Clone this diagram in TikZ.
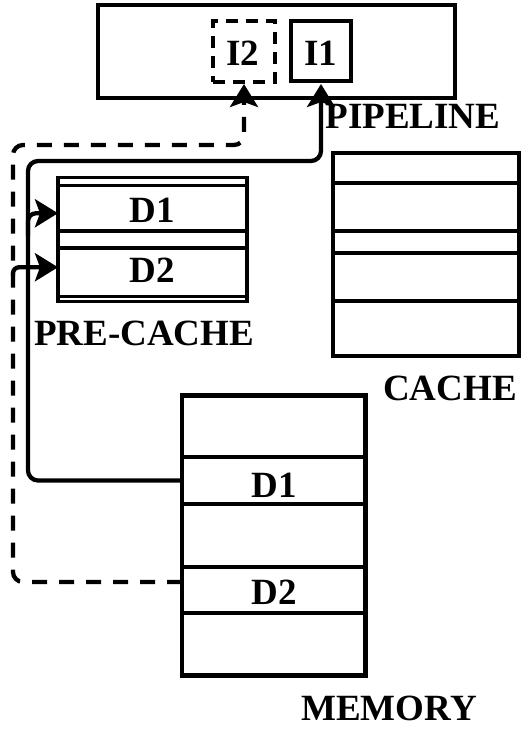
\documentclass[tikz,border=0pt]{standalone}
\usepackage{fontspec}
\setmainfont{Liberation Serif}
\usetikzlibrary{arrows.meta}
\begin{document}
\begin{tikzpicture}[x=1pt,y=-1pt,
  box/.style={draw, line width=4.6pt, inner sep=0pt, outer sep=0pt},
  pbox/.style={draw, line width=3.6pt, inner sep=0pt, outer sep=0pt, minimum width=189pt},
  cbox/.style={box, minimum width=186pt},
  mbox/.style={box, minimum width=183.5pt},
  lbl/.style={font=\fontsize{37}{40}\selectfont\bfseries, inner sep=0pt, anchor=base},
  conn/.style={line width=4.3pt, rounded corners=10pt},
  dsh/.style={dash pattern=on 15pt off 12pt},
  arrowtip/.style={-{Stealth[length=23pt,width=28pt,inset=5pt]}}
]
\useasboundingbox (0,0) rectangle (531,729);

% pipeline
\node[box, minimum width=357pt, minimum height=93pt] (pipe) at (276.5,51.5) {};
\node[box, dash pattern=on 12pt off 8pt, minimum width=62pt, minimum height=61pt] (i2) at (244,51.5) {};
\node[box, minimum width=60pt, minimum height=60pt] (i1) at (321,51) {};
\node[lbl] (i2t) at (243,65) {I2};
\node[lbl] (i1t) at (321,65) {I1};
\node[lbl] (pipet) at (413,128) {PIPELINE};

% pre-cache
\node[pbox, minimum height=8pt] (pc1) at (152.5,181.5) {};
\node[pbox, minimum height=45.5pt] (pc2) at (152.5,208.25) {};
\node[pbox, minimum height=17pt] (pc3) at (152.5,239.5) {};
\node[pbox, minimum height=48.5pt] (pc4) at (152.5,272.25) {};
\node[pbox, minimum height=5pt] (pc5) at (152.5,299) {};
\node[lbl] (pcd1) at (152,222) {D1};
\node[lbl] (pcd2) at (152,282) {D2};
\node[lbl] (pct) at (144,345) {PRE-CACHE};

% cache
\node[cbox, minimum height=30pt] (c1) at (426,168) {};
\node[cbox, minimum height=48pt] (c2) at (426,207) {};
\node[cbox, minimum height=22pt] (c3) at (426,242) {};
\node[cbox, minimum height=48pt] (c4) at (426,277) {};
\node[cbox, minimum height=55pt] (c5) at (426,328.5) {};
\node[lbl] (ct) at (450,400) {CACHE};

% memory
\node[mbox, minimum height=61.5pt] (m1) at (273.75,426.25) {};
\node[mbox, minimum height=47pt] (m2) at (273.75,480.5) {};
\node[mbox, minimum height=63pt] (m3) at (273.75,535.5) {};
\node[mbox, minimum height=46pt] (m4) at (273.75,590) {};
\node[mbox, minimum height=62.5pt] (m5) at (273.75,644.25) {};
\node[lbl] (md1) at (274,497) {D1};
\node[lbl] (md2) at (274,604) {D2};
\node[lbl] (mt) at (389,720) {MEMORY};

% connectors
\coordinate (sL) at (28,161);
\coordinate (dL) at (13,145);
\coordinate (b1) at (28,236);
\coordinate (b2) at (13,276);

\draw[conn, arrowtip, shorten >=3pt] (m2.west) -| (sL) -| (i1.south);
\draw[conn, arrowtip, rounded corners=8pt] (b1) |- ([yshift=-5pt]pc2.west);
\draw[conn, dsh, arrowtip, shorten >=2pt] ([yshift=8pt]m4.west) -| (dL) -| (i2.south);
\draw[conn, arrowtip, rounded corners=6pt] (b2) |- ([yshift=5pt]pc4.west);
\end{tikzpicture}
\end{document}
